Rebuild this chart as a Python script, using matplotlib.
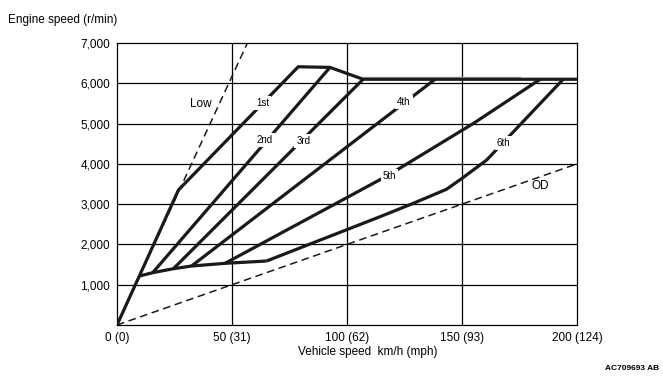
import matplotlib
matplotlib.use("Agg")
import matplotlib.pyplot as plt

plt.rcParams['font.family'] = ['Liberation Sans', 'DejaVu Sans']

# Axis ticks
x_ticks = [0, 50, 100, 150, 200]
x_tick_labels = ['0 (0)', '50 (31)', '100 (62)', '150 (93)', '200 (124)']
y_ticks = [1000, 2000, 3000, 4000, 5000, 6000, 7000]
y_tick_labels = ['1,000', '2,000', '3,000', '4,000', '5,000', '6,000', '7,000']

# Dashed reference lines (Low and OD ratios)
low_x = [0, 56.7]
low_y = [0, 7000]
od_x = [0, 200]
od_y = [0, 4000]

# Main solid polyline: origin -> Low -> 1st -> top plateau -> cut-off line
main_x = [0, 9.7, 26.7, 78.8, 92.6, 107, 200]
main_y = [0, 1215, 3350, 6410, 6395, 6100, 6100]

# Bottom start curve
start_x = [9.7, 15.5, 24.5, 32.4, 47, 65]
start_y = [1215, 1298, 1397, 1464, 1531, 1588]

# Gear lines
g2_x = [15.5, 92.6]
g2_y = [1298, 6395]
g3_x = [24.5, 107]
g3_y = [1397, 6100]
g4_x = [32.4, 138.3]
g4_y = [1464, 6100]
g5_x = [47, 95, 118, 155, 184]
g5_y = [1531, 3010, 3720, 5005, 6100]
g6_x = [65, 114, 128.8, 143.3, 150, 160.7, 194]
g6_y = [1588, 2680, 3020, 3370, 3640, 4094, 6100]

# Labels
gear_labels = ['1st', '2nd', '3rd', '4th', '5th', '6th']
gear_label_x = [63.3, 64.3, 81, 124.8, 118.4, 168]
gear_label_y = [5500, 4590, 4573, 5540, 3697, 4516]

fig = plt.figure(figsize=(6.63, 3.76), dpi=100)
ax = fig.add_axes([117/663, 51/376, 460/663, 282/376])
ax.set_xlim(0, 200)
ax.set_ylim(0, 7000)

lc = '#1a1a1a'
# grid
for xv in x_ticks[1:-1]:
    ax.axvline(xv, color='black', lw=0.9, zorder=1)
for yv in y_ticks[:-1]:
    ax.axhline(yv, color='black', lw=0.9, zorder=1)

ax.plot(low_x, low_y, color=lc, lw=1.1, ls=(0, (5, 3)), zorder=2)
ax.plot(od_x, od_y, color=lc, lw=1.1, ls=(0, (5, 3)), zorder=2)

# faint gray artifact above the cut-off line
ax.plot([107, 175], [6150, 6150], color='#b0b0b0', lw=1.0, zorder=2)

lw = 2.3
for xs, ys in [(main_x, main_y), (start_x, start_y), (g2_x, g2_y), (g3_x, g3_y),
               (g4_x, g4_y), (g5_x, g5_y), (g6_x, g6_y)]:
    ax.plot(xs, ys, color=lc, lw=lw, solid_joinstyle='miter', solid_capstyle='butt', zorder=3)

for t, xv, yv in zip(gear_labels, gear_label_x, gear_label_y):
    ax.text(xv, yv, t, fontsize=7, ha='center', va='center', zorder=5,
            bbox=dict(facecolor='white', edgecolor='none', pad=1.5))

ax.text(36.6, 5484, 'Low', fontsize=8.5, ha='center', va='center', zorder=5)
ax.text(184.2, 3449, 'OD', fontsize=8.5, ha='center', va='center', zorder=5)

ax.set_xticks(x_ticks)
ax.set_xticklabels(x_tick_labels, fontsize=8.5)
ax.set_yticks(y_ticks)
ax.set_yticklabels(y_tick_labels, fontsize=8.5)
ax.tick_params(length=0, pad=5)
for s in ax.spines.values():
    s.set_linewidth(0.9)
    s.set_color('black')

fig.text(8/663, 1 - 20/376, 'Engine speed (r/min)', fontsize=8.5, ha='left', va='center')
fig.text(368/663, 1 - 352/376, 'Vehicle speed  km/h (mph)', fontsize=8.5, ha='center', va='center')
fig.text(659/663, 1 - 369/376, 'AC709693 AB', fontsize=6, fontweight='bold', ha='right', va='center')

fig.savefig('out.png', dpi=100)
